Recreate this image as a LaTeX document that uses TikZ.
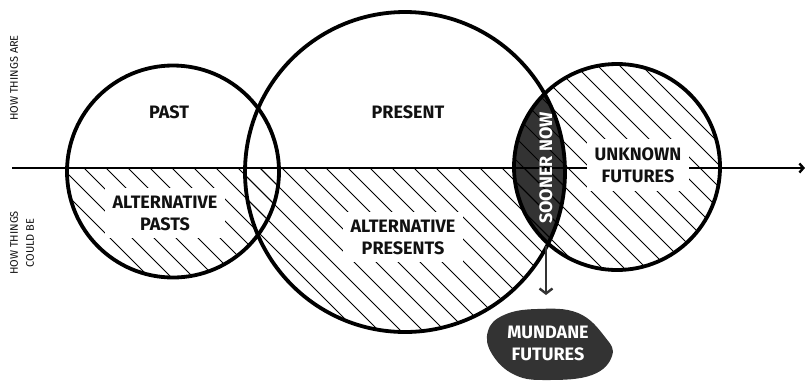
\documentclass[tikz,border=0pt]{standalone}
\usepackage{fontspec}
\setmainfont{Fira Sans}
\usetikzlibrary{arrows.meta}
\definecolor{dk}{HTML}{333333}
\definecolor{ink}{HTML}{111111}
\tikzset{
  circ/.style={line width=3.8pt, draw=black},
  lbl/.style={font=\fontsize{18}{22}\selectfont\bfseries, align=center, text=ink},
  wlbl/.style={lbl, fill=white, inner xsep=8pt, inner ysep=8pt},
  side/.style={font=\fontsize{11}{16}\selectfont, align=center, rotate=90, text=ink},
  hatchline/.style={line width=0.9pt, draw=black}
}
\newcommand\hatchall{\foreach \k in {-26,...,32}{\draw[hatchline] ({148+22*\k},-10) -- ({148+22*\k+410},400);}}
\begin{document}
\begin{tikzpicture}[x=1pt,y=-1pt]
\useasboundingbox (0,0) rectangle (805,384);
\coordinate (pc) at (173,171.5);
\coordinate (nc) at (405,172);
\coordinate (fc) at (617,167);
% lens fill
\begin{scope}
  \clip (nc) circle (160pt);
  \fill[dk] (fc) circle (103pt);
\end{scope}
% hatching
\begin{scope}
  \clip (fc) circle (103pt);
  \hatchall
\end{scope}
\begin{scope}
  \clip (0,168) rectangle (805,384);
  \clip (nc) circle (160pt);
  \hatchall
\end{scope}
\begin{scope}
  \clip (0,168) rectangle (805,384);
  \clip (pc) circle (106pt);
  \hatchall
\end{scope}
% axis
\coordinate (a0) at (12,168);
\coordinate (a1) at (805,168);
\draw[line width=2.4pt, -{Straight Barb[length=4pt,width=9pt]}] (a0) -- (a1);
% labels
\node[lbl] (past) at (169,112) {PAST};
\node[wlbl] (altpast) at (165,213) {ALTERNATIVE\\PASTS};
\node[lbl] (present) at (408,112) {PRESENT};
\node[wlbl] (altpres) at (403,237) {ALTERNATIVE\\PRESENTS};
\node[wlbl] (unk) at (638,165) {UNKNOWN\\FUTURES};
% circles
\draw[circ] (pc) circle (106pt);
\draw[circ] (nc) circle (160pt);
\draw[circ] (fc) circle (103pt);
% sooner now
\node[lbl, text=white, rotate=90] (sooner) at (546,168) {SOONER NOW};
% arrow to mundane
\coordinate (lensb) at (546,246);
\coordinate (arrend) at (546,295);
\draw[dk, line width=2.4pt, -{Straight Barb[length=5pt,width=13pt]}] (lensb) -- (arrend);
\fill[dk] plot[smooth cycle, tension=0.7] coordinates {(537,309) (578,313) (605,337) (612,356) (592,375) (548,380) (515,375) (492,354) (488,331) (504,315)};
\node[lbl, text=white] (mundane) at (548,343) {MUNDANE\\FUTURES};
% side labels
\node[side] (are) at (14,78) {HOW THINGS ARE};
\node[side] (could) at (22,243) {HOW THINGS\\COULD BE};
\end{tikzpicture}
\end{document}
